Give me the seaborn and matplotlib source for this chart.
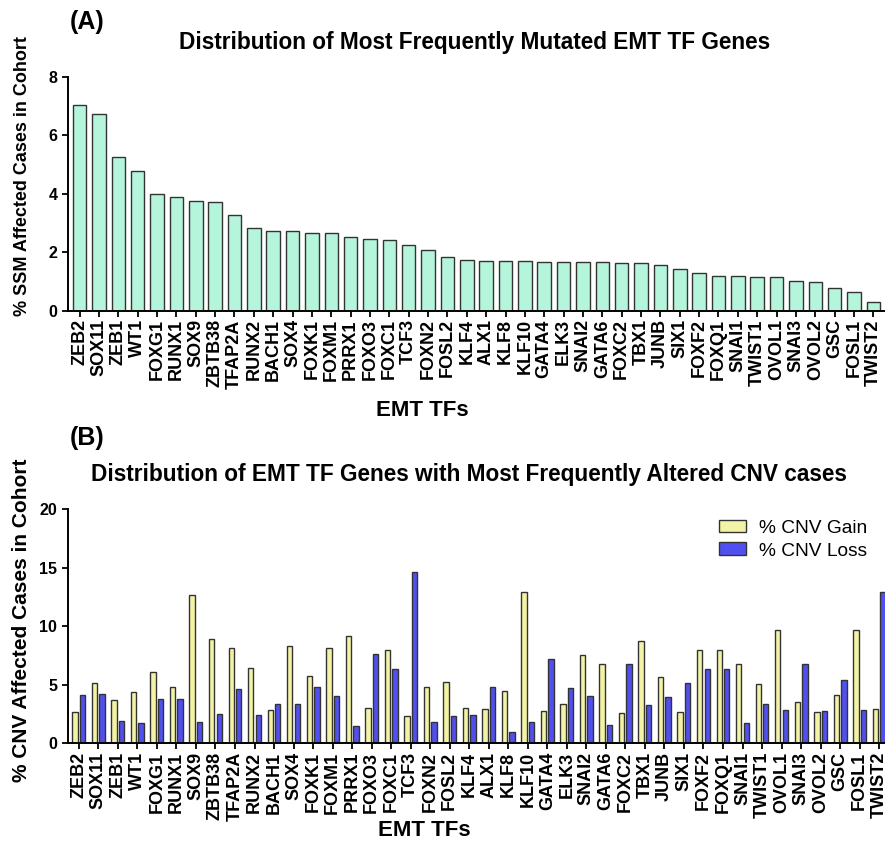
import matplotlib
matplotlib.use("Agg")
import matplotlib.pyplot as plt
import seaborn as sns
import pandas as pd

genes = ["ZEB2", "SOX11", "ZEB1", "WT1", "FOXG1", "RUNX1", "SOX9", "ZBTB38", "TFAP2A",
         "RUNX2", "BACH1", "SOX4", "FOXK1", "FOXM1", "PRRX1", "FOXO3", "FOXC1", "TCF3",
         "FOXN2", "FOSL2", "KLF4", "ALX1", "KLF8", "KLF10", "GATA4", "ELK3", "SNAI2",
         "GATA6", "FOXC2", "TBX1", "JUNB", "SIX1", "FOXF2", "FOXQ1", "SNAI1", "TWIST1",
         "OVOL1", "SNAI3", "OVOL2", "GSC", "FOSL1", "TWIST2"]

ssm_pct = [7.03, 6.74, 5.25, 4.77, 4.00, 3.89, 3.76, 3.71, 3.28,
           2.85, 2.74, 2.74, 2.66, 2.66, 2.52, 2.47, 2.43, 2.27,
           2.10, 1.83, 1.75, 1.71, 1.71, 1.71, 1.67, 1.67, 1.67,
           1.67, 1.63, 1.63, 1.57, 1.42, 1.31, 1.20, 1.20, 1.15,
           1.15, 1.03, 0.98, 0.79, 0.66, 0.31]

cnv_gain = [2.65, 5.19, 3.68, 4.36, 6.07, 4.84, 12.65, 8.95, 8.15,
            6.44, 2.88, 8.35, 5.73, 8.15, 9.17, 3.05, 7.98, 2.36,
            4.84, 5.24, 3.05, 2.96, 4.47, 12.96, 2.79, 3.36, 7.58,
            6.78, 2.56, 8.77, 5.64, 2.65, 7.98, 7.98, 6.78, 5.04,
            9.69, 3.56, 2.65, 4.16, 9.69, 2.96]

cnv_loss = [4.16, 4.25, 1.94, 1.74, 3.76, 3.76, 1.82, 2.54, 4.67,
            2.45, 3.33, 3.33, 4.84, 4.05, 1.45, 7.66, 6.35, 14.64,
            1.82, 2.36, 2.45, 4.84, 0.94, 1.82, 7.24, 4.76, 4.05,
            1.54, 6.78, 3.25, 3.96, 5.16, 6.35, 6.35, 1.74, 3.33,
            2.85, 6.78, 2.76, 5.44, 2.85, 12.96]

series_names = ["% CNV Gain", "% CNV Loss"]

sns.set_theme(style="ticks")
plt.rcParams["font.family"] = ["Liberation Sans", "DejaVu Sans"]
plt.rcParams["text.color"] = "black"
plt.rcParams["axes.labelcolor"] = "black"
plt.rcParams["xtick.color"] = "black"
plt.rcParams["ytick.color"] = "black"

fig = plt.figure(figsize=(8.85, 8.48), dpi=100)

ax1 = fig.add_axes([0.0768, 0.6333, 0.9232, 0.2759])
ax2 = fig.add_axes([0.0765, 0.1233, 0.9235, 0.2761])

df1 = pd.DataFrame({"gene": genes, "pct": ssm_pct})
sns.barplot(data=df1, x="gene", y="pct", color="#b4f5dc", saturation=1,
            width=0.7, edgecolor="#333333", linewidth=1.0, ax=ax1)

df2 = pd.DataFrame({
    "gene": genes * 2,
    "pct": cnv_gain + cnv_loss,
    "type": [series_names[0]] * len(genes) + [series_names[1]] * len(genes),
})
sns.barplot(data=df2, x="gene", y="pct", hue="type", hue_order=series_names,
            palette=["#f3f3a6", "#5050f0"], saturation=1, width=0.77, gap=0.28,
            edgecolor="#333333", linewidth=1.0, ax=ax2)

for ax, ymax, step in [(ax1, 8, 2), (ax2, 20, 5)]:
    ax.set_ylim(0, ymax)
    ax.set_yticks(range(0, ymax + 1, step))
    ax.set_xlabel("")
    ax.set_ylabel("")
    for s in ["top", "right"]:
        ax.spines[s].set_visible(False)
    for s in ["left", "bottom"]:
        ax.spines[s].set_linewidth(1.4)
        ax.spines[s].set_color("black")
    ax.tick_params(axis="both", direction="out", length=4, width=1.3,
                   color="black", labelcolor="black")
    ax.set_xticks(range(len(genes)))
    ax.set_xticklabels(genes, rotation=90, fontsize=13, fontweight="bold")
    for lab in ax.get_yticklabels():
        lab.set_fontsize(11.5)
        lab.set_fontweight("bold")
    ax.tick_params(axis="x", pad=2)
    ax.set_facecolor("white")

ax1.set_xlim(-0.6, 41.6)
ax2.set_xlim(-0.57, 41.3)

leg = ax2.legend(loc="upper right", bbox_to_anchor=(1.0, 1.03), frameon=False,
                 fontsize=13.8, handlelength=1.4, handleheight=0.65,
                 handletextpad=0.7, labelspacing=0.3)
for p in leg.get_patches():
    p.set_edgecolor("#333333")
    p.set_linewidth(1.0)
for t in leg.get_texts():
    t.set_color("black")

fig.text(0.079, 0.974, "(A)", fontsize=18, fontweight="bold", ha="left", va="center")
fig.text(0.536, 0.950, "Distribution of Most Frequently Mutated EMT TF Genes",
         fontsize=16.3, fontweight="bold", ha="center", va="center")
fig.text(0.079, 0.4835, "(B)", fontsize=18, fontweight="bold", ha="left", va="center")
fig.text(0.530, 0.44, "Distribution of EMT TF Genes with Most Frequently Altered CNV cases",
         fontsize=16.3, fontweight="bold", ha="center", va="center")

fig.text(0.025, 0.792, "% SSM Affected Cases in Cohort", rotation=90, fontsize=13,
         fontweight="bold", ha="center", va="center")
fig.text(0.024, 0.269, "% CNV Affected Cases in Cohort", rotation=90, fontsize=15,
         fontweight="bold", ha="center", va="center")
fig.text(0.477, 0.5165, "EMT TFs", fontsize=16, fontweight="bold", ha="center", va="center")
fig.text(0.479, 0.021, "EMT TFs", fontsize=16, fontweight="bold", ha="center", va="center")

fig.savefig("out.png", dpi=100, facecolor="white")
